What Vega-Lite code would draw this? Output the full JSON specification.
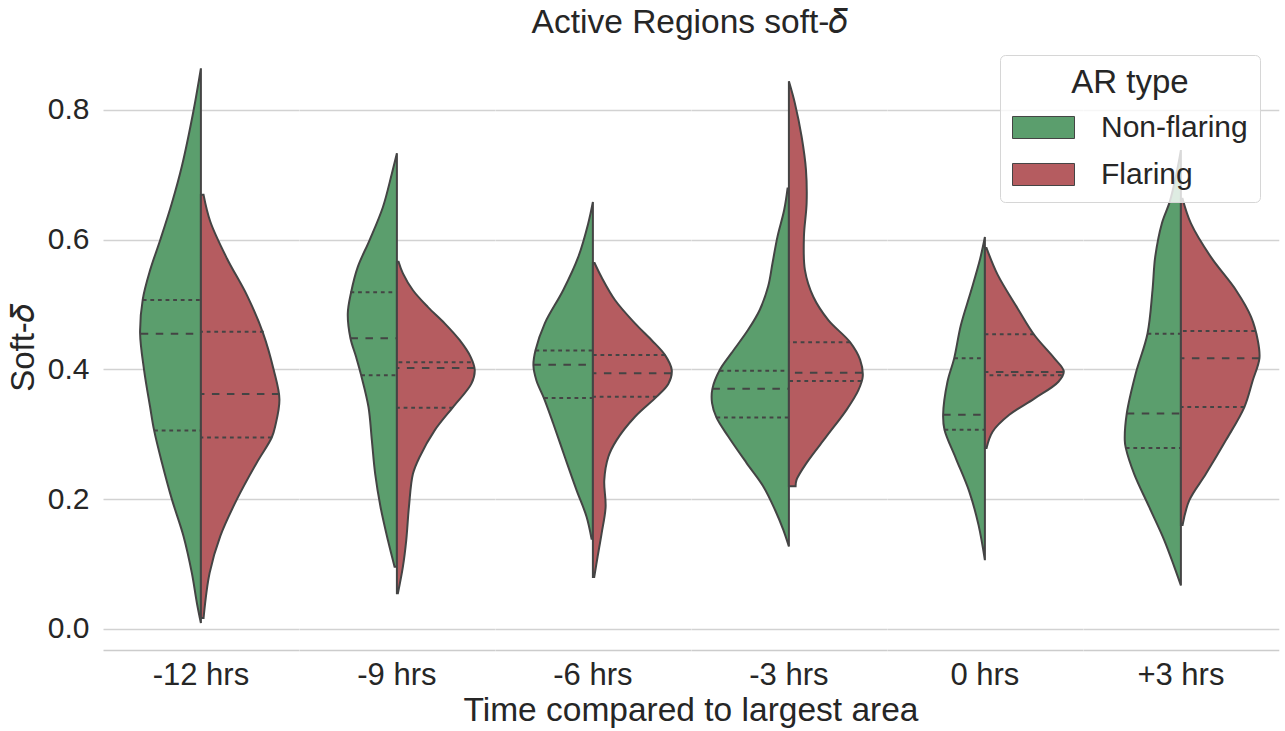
{
  "$schema": "https://vega.github.io/schema/vega-lite/v6.json",
  "padding": {"left": 7, "top": 5, "right": 5, "bottom": 5},
  "title": {"text": "Active Regions soft-𝛿", "fontSize": 33.5, "font": "Liberation Sans", "fontWeight": "normal", "color": "#262626", "anchor": "middle", "frame": "bounds", "dx": 47, "offset": 5},
  "data": {"values": [
    {"t":"-12 hrs","g":"Non-flaring","kind":"outline","v":0.864,"w":0},
    {"t":"-12 hrs","g":"Non-flaring","kind":"outline","v":0.799,"w":-22},
    {"t":"-12 hrs","g":"Non-flaring","kind":"outline","v":0.713,"w":-57},
    {"t":"-12 hrs","g":"Non-flaring","kind":"outline","v":0.656,"w":-87},
    {"t":"-12 hrs","g":"Non-flaring","kind":"outline","v":0.599,"w":-122},
    {"t":"-12 hrs","g":"Non-flaring","kind":"outline","v":0.553,"w":-152},
    {"t":"-12 hrs","g":"Non-flaring","kind":"outline","v":0.508,"w":-174},
    {"t":"-12 hrs","g":"Non-flaring","kind":"outline","v":0.456,"w":-182},
    {"t":"-12 hrs","g":"Non-flaring","kind":"outline","v":0.399,"w":-170},
    {"t":"-12 hrs","g":"Non-flaring","kind":"outline","v":0.342,"w":-152},
    {"t":"-12 hrs","g":"Non-flaring","kind":"outline","v":0.306,"w":-140},
    {"t":"-12 hrs","g":"Non-flaring","kind":"outline","v":0.257,"w":-117},
    {"t":"-12 hrs","g":"Non-flaring","kind":"outline","v":0.2,"w":-87},
    {"t":"-12 hrs","g":"Non-flaring","kind":"outline","v":0.143,"w":-52},
    {"t":"-12 hrs","g":"Non-flaring","kind":"outline","v":0.086,"w":-27},
    {"t":"-12 hrs","g":"Non-flaring","kind":"outline","v":0.04,"w":-12},
    {"t":"-12 hrs","g":"Non-flaring","kind":"outline","v":0.009,"w":0},
    {"t":"-12 hrs","g":"Flaring","kind":"outline","v":0.669,"w":8},
    {"t":"-12 hrs","g":"Flaring","kind":"outline","v":0.628,"w":28},
    {"t":"-12 hrs","g":"Flaring","kind":"outline","v":0.571,"w":78},
    {"t":"-12 hrs","g":"Flaring","kind":"outline","v":0.514,"w":138},
    {"t":"-12 hrs","g":"Flaring","kind":"outline","v":0.456,"w":186},
    {"t":"-12 hrs","g":"Flaring","kind":"outline","v":0.399,"w":218},
    {"t":"-12 hrs","g":"Flaring","kind":"outline","v":0.354,"w":235},
    {"t":"-12 hrs","g":"Flaring","kind":"outline","v":0.314,"w":223},
    {"t":"-12 hrs","g":"Flaring","kind":"outline","v":0.295,"w":212},
    {"t":"-12 hrs","g":"Flaring","kind":"outline","v":0.257,"w":168},
    {"t":"-12 hrs","g":"Flaring","kind":"outline","v":0.2,"w":108},
    {"t":"-12 hrs","g":"Flaring","kind":"outline","v":0.143,"w":58},
    {"t":"-12 hrs","g":"Flaring","kind":"outline","v":0.086,"w":26},
    {"t":"-12 hrs","g":"Flaring","kind":"outline","v":0.017,"w":8},

    {"t":"-9 hrs","g":"Non-flaring","kind":"outline","v":0.733,"w":0},
    {"t":"-9 hrs","g":"Non-flaring","kind":"outline","v":0.702,"w":-15},
    {"t":"-9 hrs","g":"Non-flaring","kind":"outline","v":0.650,"w":-42},
    {"t":"-9 hrs","g":"Non-flaring","kind":"outline","v":0.599,"w":-82},
    {"t":"-9 hrs","g":"Non-flaring","kind":"outline","v":0.558,"w":-117},
    {"t":"-9 hrs","g":"Non-flaring","kind":"outline","v":0.519,"w":-137},
    {"t":"-9 hrs","g":"Non-flaring","kind":"outline","v":0.486,"w":-147},
    {"t":"-9 hrs","g":"Non-flaring","kind":"outline","v":0.448,"w":-139},
    {"t":"-9 hrs","g":"Non-flaring","kind":"outline","v":0.419,"w":-122},
    {"t":"-9 hrs","g":"Non-flaring","kind":"outline","v":0.391,"w":-107},
    {"t":"-9 hrs","g":"Non-flaring","kind":"outline","v":0.342,"w":-85},
    {"t":"-9 hrs","g":"Non-flaring","kind":"outline","v":0.291,"w":-75},
    {"t":"-9 hrs","g":"Non-flaring","kind":"outline","v":0.239,"w":-65},
    {"t":"-9 hrs","g":"Non-flaring","kind":"outline","v":0.188,"w":-49},
    {"t":"-9 hrs","g":"Non-flaring","kind":"outline","v":0.137,"w":-27},
    {"t":"-9 hrs","g":"Non-flaring","kind":"outline","v":0.096,"w":-7},
    {"t":"-9 hrs","g":"Flaring","kind":"outline","v":0.566,"w":5},
    {"t":"-9 hrs","g":"Flaring","kind":"outline","v":0.548,"w":18},
    {"t":"-9 hrs","g":"Flaring","kind":"outline","v":0.522,"w":48},
    {"t":"-9 hrs","g":"Flaring","kind":"outline","v":0.496,"w":93},
    {"t":"-9 hrs","g":"Flaring","kind":"outline","v":0.471,"w":143},
    {"t":"-9 hrs","g":"Flaring","kind":"outline","v":0.445,"w":188},
    {"t":"-9 hrs","g":"Flaring","kind":"outline","v":0.419,"w":221},
    {"t":"-9 hrs","g":"Flaring","kind":"outline","v":0.399,"w":233},
    {"t":"-9 hrs","g":"Flaring","kind":"outline","v":0.378,"w":223},
    {"t":"-9 hrs","g":"Flaring","kind":"outline","v":0.342,"w":168},
    {"t":"-9 hrs","g":"Flaring","kind":"outline","v":0.306,"w":113},
    {"t":"-9 hrs","g":"Flaring","kind":"outline","v":0.265,"w":68},
    {"t":"-9 hrs","g":"Flaring","kind":"outline","v":0.239,"w":48},
    {"t":"-9 hrs","g":"Flaring","kind":"outline","v":0.188,"w":36},
    {"t":"-9 hrs","g":"Flaring","kind":"outline","v":0.137,"w":28},
    {"t":"-9 hrs","g":"Flaring","kind":"outline","v":0.096,"w":18},
    {"t":"-9 hrs","g":"Flaring","kind":"outline","v":0.055,"w":3},

    {"t":"-6 hrs","g":"Non-flaring","kind":"outline","v":0.658,"w":0},
    {"t":"-6 hrs","g":"Non-flaring","kind":"outline","v":0.625,"w":-14},
    {"t":"-6 hrs","g":"Non-flaring","kind":"outline","v":0.573,"w":-44},
    {"t":"-6 hrs","g":"Non-flaring","kind":"outline","v":0.522,"w":-89},
    {"t":"-6 hrs","g":"Non-flaring","kind":"outline","v":0.471,"w":-144},
    {"t":"-6 hrs","g":"Non-flaring","kind":"outline","v":0.429,"w":-172},
    {"t":"-6 hrs","g":"Non-flaring","kind":"outline","v":0.406,"w":-178},
    {"t":"-6 hrs","g":"Non-flaring","kind":"outline","v":0.383,"w":-169},
    {"t":"-6 hrs","g":"Non-flaring","kind":"outline","v":0.355,"w":-146},
    {"t":"-6 hrs","g":"Non-flaring","kind":"outline","v":0.317,"w":-119},
    {"t":"-6 hrs","g":"Non-flaring","kind":"outline","v":0.265,"w":-84},
    {"t":"-6 hrs","g":"Non-flaring","kind":"outline","v":0.214,"w":-49},
    {"t":"-6 hrs","g":"Non-flaring","kind":"outline","v":0.173,"w":-19},
    {"t":"-6 hrs","g":"Non-flaring","kind":"outline","v":0.139,"w":-4},
    {"t":"-6 hrs","g":"Flaring","kind":"outline","v":0.564,"w":5},
    {"t":"-6 hrs","g":"Flaring","kind":"outline","v":0.542,"w":26},
    {"t":"-6 hrs","g":"Flaring","kind":"outline","v":0.507,"w":66},
    {"t":"-6 hrs","g":"Flaring","kind":"outline","v":0.471,"w":126},
    {"t":"-6 hrs","g":"Flaring","kind":"outline","v":0.445,"w":176},
    {"t":"-6 hrs","g":"Flaring","kind":"outline","v":0.422,"w":216},
    {"t":"-6 hrs","g":"Flaring","kind":"outline","v":0.399,"w":236},
    {"t":"-6 hrs","g":"Flaring","kind":"outline","v":0.378,"w":226},
    {"t":"-6 hrs","g":"Flaring","kind":"outline","v":0.358,"w":191},
    {"t":"-6 hrs","g":"Flaring","kind":"outline","v":0.327,"w":126},
    {"t":"-6 hrs","g":"Flaring","kind":"outline","v":0.291,"w":71},
    {"t":"-6 hrs","g":"Flaring","kind":"outline","v":0.265,"w":46},
    {"t":"-6 hrs","g":"Flaring","kind":"outline","v":0.229,"w":34},
    {"t":"-6 hrs","g":"Flaring","kind":"outline","v":0.188,"w":38},
    {"t":"-6 hrs","g":"Flaring","kind":"outline","v":0.147,"w":26},
    {"t":"-6 hrs","g":"Flaring","kind":"outline","v":0.111,"w":14},
    {"t":"-6 hrs","g":"Flaring","kind":"outline","v":0.080,"w":4},

    {"t":"-3 hrs","g":"Non-flaring","kind":"outline","v":0.679,"w":-4},
    {"t":"-3 hrs","g":"Non-flaring","kind":"outline","v":0.646,"w":-14},
    {"t":"-3 hrs","g":"Non-flaring","kind":"outline","v":0.605,"w":-34},
    {"t":"-3 hrs","g":"Non-flaring","kind":"outline","v":0.564,"w":-49},
    {"t":"-3 hrs","g":"Non-flaring","kind":"outline","v":0.528,"w":-62},
    {"t":"-3 hrs","g":"Non-flaring","kind":"outline","v":0.492,"w":-87},
    {"t":"-3 hrs","g":"Non-flaring","kind":"outline","v":0.461,"w":-122},
    {"t":"-3 hrs","g":"Non-flaring","kind":"outline","v":0.425,"w":-172},
    {"t":"-3 hrs","g":"Non-flaring","kind":"outline","v":0.399,"w":-207},
    {"t":"-3 hrs","g":"Non-flaring","kind":"outline","v":0.370,"w":-229},
    {"t":"-3 hrs","g":"Non-flaring","kind":"outline","v":0.348,"w":-230},
    {"t":"-3 hrs","g":"Non-flaring","kind":"outline","v":0.326,"w":-217},
    {"t":"-3 hrs","g":"Non-flaring","kind":"outline","v":0.297,"w":-182},
    {"t":"-3 hrs","g":"Non-flaring","kind":"outline","v":0.256,"w":-127},
    {"t":"-3 hrs","g":"Non-flaring","kind":"outline","v":0.220,"w":-77},
    {"t":"-3 hrs","g":"Non-flaring","kind":"outline","v":0.184,"w":-42},
    {"t":"-3 hrs","g":"Non-flaring","kind":"outline","v":0.153,"w":-17},
    {"t":"-3 hrs","g":"Non-flaring","kind":"outline","v":0.127,"w":0},
    {"t":"-3 hrs","g":"Flaring","kind":"outline","v":0.844,"w":0},
    {"t":"-3 hrs","g":"Flaring","kind":"outline","v":0.810,"w":18},
    {"t":"-3 hrs","g":"Flaring","kind":"outline","v":0.759,"w":38},
    {"t":"-3 hrs","g":"Flaring","kind":"outline","v":0.708,"w":51},
    {"t":"-3 hrs","g":"Flaring","kind":"outline","v":0.656,"w":53},
    {"t":"-3 hrs","g":"Flaring","kind":"outline","v":0.605,"w":45},
    {"t":"-3 hrs","g":"Flaring","kind":"outline","v":0.553,"w":48},
    {"t":"-3 hrs","g":"Flaring","kind":"outline","v":0.512,"w":73},
    {"t":"-3 hrs","g":"Flaring","kind":"outline","v":0.476,"w":118},
    {"t":"-3 hrs","g":"Flaring","kind":"outline","v":0.442,"w":183},
    {"t":"-3 hrs","g":"Flaring","kind":"outline","v":0.415,"w":213},
    {"t":"-3 hrs","g":"Flaring","kind":"outline","v":0.389,"w":221},
    {"t":"-3 hrs","g":"Flaring","kind":"outline","v":0.368,"w":208},
    {"t":"-3 hrs","g":"Flaring","kind":"outline","v":0.338,"w":173},
    {"t":"-3 hrs","g":"Flaring","kind":"outline","v":0.297,"w":113},
    {"t":"-3 hrs","g":"Flaring","kind":"outline","v":0.256,"w":53},
    {"t":"-3 hrs","g":"Flaring","kind":"outline","v":0.230,"w":23},
    {"t":"-3 hrs","g":"Flaring","kind":"outline","v":0.220,"w":20},

    {"t":"0 hrs","g":"Non-flaring","kind":"outline","v":0.604,"w":0},
    {"t":"0 hrs","g":"Non-flaring","kind":"outline","v":0.571,"w":-14},
    {"t":"0 hrs","g":"Non-flaring","kind":"outline","v":0.520,"w":-42},
    {"t":"0 hrs","g":"Non-flaring","kind":"outline","v":0.468,"w":-72},
    {"t":"0 hrs","g":"Non-flaring","kind":"outline","v":0.417,"w":-92},
    {"t":"0 hrs","g":"Non-flaring","kind":"outline","v":0.381,"w":-112},
    {"t":"0 hrs","g":"Non-flaring","kind":"outline","v":0.330,"w":-125},
    {"t":"0 hrs","g":"Non-flaring","kind":"outline","v":0.307,"w":-121},
    {"t":"0 hrs","g":"Non-flaring","kind":"outline","v":0.263,"w":-87},
    {"t":"0 hrs","g":"Non-flaring","kind":"outline","v":0.212,"w":-47},
    {"t":"0 hrs","g":"Non-flaring","kind":"outline","v":0.160,"w":-19},
    {"t":"0 hrs","g":"Non-flaring","kind":"outline","v":0.106,"w":0},
    {"t":"0 hrs","g":"Flaring","kind":"outline","v":0.587,"w":5},
    {"t":"0 hrs","g":"Flaring","kind":"outline","v":0.546,"w":38},
    {"t":"0 hrs","g":"Flaring","kind":"outline","v":0.494,"w":98},
    {"t":"0 hrs","g":"Flaring","kind":"outline","v":0.453,"w":148},
    {"t":"0 hrs","g":"Flaring","kind":"outline","v":0.417,"w":208},
    {"t":"0 hrs","g":"Flaring","kind":"outline","v":0.397,"w":236},
    {"t":"0 hrs","g":"Flaring","kind":"outline","v":0.381,"w":220},
    {"t":"0 hrs","g":"Flaring","kind":"outline","v":0.355,"w":148},
    {"t":"0 hrs","g":"Flaring","kind":"outline","v":0.330,"w":73},
    {"t":"0 hrs","g":"Flaring","kind":"outline","v":0.304,"w":23},
    {"t":"0 hrs","g":"Flaring","kind":"outline","v":0.279,"w":5},

    {"t":"+3 hrs","g":"Non-flaring","kind":"outline","v":0.738,"w":0},
    {"t":"+3 hrs","g":"Non-flaring","kind":"outline","v":0.700,"w":-14},
    {"t":"+3 hrs","g":"Non-flaring","kind":"outline","v":0.659,"w":-33},
    {"t":"+3 hrs","g":"Non-flaring","kind":"outline","v":0.625,"w":-57},
    {"t":"+3 hrs","g":"Non-flaring","kind":"outline","v":0.573,"w":-77},
    {"t":"+3 hrs","g":"Non-flaring","kind":"outline","v":0.522,"w":-85},
    {"t":"+3 hrs","g":"Non-flaring","kind":"outline","v":0.455,"w":-100},
    {"t":"+3 hrs","g":"Non-flaring","kind":"outline","v":0.394,"w":-135},
    {"t":"+3 hrs","g":"Non-flaring","kind":"outline","v":0.332,"w":-162},
    {"t":"+3 hrs","g":"Non-flaring","kind":"outline","v":0.291,"w":-168},
    {"t":"+3 hrs","g":"Non-flaring","kind":"outline","v":0.279,"w":-165},
    {"t":"+3 hrs","g":"Non-flaring","kind":"outline","v":0.239,"w":-140},
    {"t":"+3 hrs","g":"Non-flaring","kind":"outline","v":0.188,"w":-95},
    {"t":"+3 hrs","g":"Non-flaring","kind":"outline","v":0.137,"w":-50},
    {"t":"+3 hrs","g":"Non-flaring","kind":"outline","v":0.096,"w":-20},
    {"t":"+3 hrs","g":"Non-flaring","kind":"outline","v":0.067,"w":0},
    {"t":"+3 hrs","g":"Flaring","kind":"outline","v":0.663,"w":5},
    {"t":"+3 hrs","g":"Flaring","kind":"outline","v":0.625,"w":30},
    {"t":"+3 hrs","g":"Flaring","kind":"outline","v":0.573,"w":90},
    {"t":"+3 hrs","g":"Flaring","kind":"outline","v":0.522,"w":165},
    {"t":"+3 hrs","g":"Flaring","kind":"outline","v":0.481,"w":210},
    {"t":"+3 hrs","g":"Flaring","kind":"outline","v":0.445,"w":230},
    {"t":"+3 hrs","g":"Flaring","kind":"outline","v":0.417,"w":235},
    {"t":"+3 hrs","g":"Flaring","kind":"outline","v":0.383,"w":215},
    {"t":"+3 hrs","g":"Flaring","kind":"outline","v":0.342,"w":190},
    {"t":"+3 hrs","g":"Flaring","kind":"outline","v":0.291,"w":135},
    {"t":"+3 hrs","g":"Flaring","kind":"outline","v":0.239,"w":75},
    {"t":"+3 hrs","g":"Flaring","kind":"outline","v":0.198,"w":25},
    {"t":"+3 hrs","g":"Flaring","kind":"outline","v":0.160,"w":5},

    {"t":"-12 hrs","g":"Non-flaring","kind":"quartile","v":0.507,"w":-174},
    {"t":"-12 hrs","g":"Non-flaring","kind":"median","v":0.455,"w":-180},
    {"t":"-12 hrs","g":"Non-flaring","kind":"quartile","v":0.306,"w":-140},
    {"t":"-12 hrs","g":"Flaring","kind":"quartile","v":0.458,"w":188},
    {"t":"-12 hrs","g":"Flaring","kind":"median","v":0.362,"w":235},
    {"t":"-12 hrs","g":"Flaring","kind":"quartile","v":0.295,"w":212},
    {"t":"-9 hrs","g":"Non-flaring","kind":"quartile","v":0.519,"w":-139},
    {"t":"-9 hrs","g":"Non-flaring","kind":"median","v":0.448,"w":-139},
    {"t":"-9 hrs","g":"Non-flaring","kind":"quartile","v":0.391,"w":-107},
    {"t":"-9 hrs","g":"Flaring","kind":"quartile","v":0.411,"w":221},
    {"t":"-9 hrs","g":"Flaring","kind":"median","v":0.402,"w":232},
    {"t":"-9 hrs","g":"Flaring","kind":"quartile","v":0.341,"w":168},
    {"t":"-6 hrs","g":"Non-flaring","kind":"quartile","v":0.429,"w":-172},
    {"t":"-6 hrs","g":"Non-flaring","kind":"median","v":0.407,"w":-178},
    {"t":"-6 hrs","g":"Non-flaring","kind":"quartile","v":0.356,"w":-146},
    {"t":"-6 hrs","g":"Flaring","kind":"quartile","v":0.422,"w":216},
    {"t":"-6 hrs","g":"Flaring","kind":"median","v":0.394,"w":235},
    {"t":"-6 hrs","g":"Flaring","kind":"quartile","v":0.358,"w":191},
    {"t":"-3 hrs","g":"Non-flaring","kind":"quartile","v":0.398,"w":-207},
    {"t":"-3 hrs","g":"Non-flaring","kind":"median","v":0.370,"w":-229},
    {"t":"-3 hrs","g":"Non-flaring","kind":"quartile","v":0.326,"w":-217},
    {"t":"-3 hrs","g":"Flaring","kind":"quartile","v":0.442,"w":183},
    {"t":"-3 hrs","g":"Flaring","kind":"median","v":0.395,"w":220},
    {"t":"-3 hrs","g":"Flaring","kind":"quartile","v":0.382,"w":217},
    {"t":"0 hrs","g":"Non-flaring","kind":"quartile","v":0.417,"w":-92},
    {"t":"0 hrs","g":"Non-flaring","kind":"median","v":0.330,"w":-125},
    {"t":"0 hrs","g":"Non-flaring","kind":"quartile","v":0.307,"w":-121},
    {"t":"0 hrs","g":"Flaring","kind":"quartile","v":0.454,"w":147},
    {"t":"0 hrs","g":"Flaring","kind":"median","v":0.396,"w":235},
    {"t":"0 hrs","g":"Flaring","kind":"quartile","v":0.391,"w":230},
    {"t":"+3 hrs","g":"Non-flaring","kind":"quartile","v":0.455,"w":-100},
    {"t":"+3 hrs","g":"Non-flaring","kind":"median","v":0.332,"w":-162},
    {"t":"+3 hrs","g":"Non-flaring","kind":"quartile","v":0.279,"w":-165},
    {"t":"+3 hrs","g":"Flaring","kind":"quartile","v":0.459,"w":222},
    {"t":"+3 hrs","g":"Flaring","kind":"median","v":0.417,"w":235},
    {"t":"+3 hrs","g":"Flaring","kind":"quartile","v":0.342,"w":190}
  ]},
  "facet": {
    "column": {
      "field": "t", "type": "nominal",
      "sort": ["-12 hrs", "-9 hrs", "-6 hrs", "-3 hrs", "0 hrs", "+3 hrs"],
      "title": "Time compared to largest area",
      "header": {
        "labelOrient": "bottom", "labelFontSize": 31, "labelFont": "Liberation Sans", "labelColor": "#262626", "labelPadding": 11,
        "titleOrient": "bottom", "titleFontSize": 33.5, "titleFont": "Liberation Sans", "titleFontWeight": "normal", "titleColor": "#262626", "titlePadding": -6
      }
    }
  },
  "spacing": 0,
  "spec": {
    "width": 195.8,
    "height": 605,
    "layer": [
      {
        "transform": [{"filter": "datum.kind === 'outline'"}],
        "mark": {"type": "area", "orient": "horizontal", "interpolate": "catmull-rom", "stroke": "#444444", "strokeWidth": 2, "fillOpacity": 1, "opacity": 1},
        "encoding": {
          "y": {"field": "v", "type": "quantitative",
                "scale": {"domain": [-0.0325, 0.9], "nice": false, "zero": false},
                "axis": {"title": "Soft-𝛿", "values": [0, 0.2, 0.4, 0.6, 0.8], "format": ".1f", "domain": false, "ticks": false,
                         "labelPadding": 14, "labelFontSize": 30, "labelFont": "Liberation Sans", "labelColor": "#262626",
                         "titleFontSize": 33, "titleFont": "Liberation Sans", "titleFontWeight": "normal", "titleColor": "#262626", "titlePadding": 7,
                         "grid": true, "gridColor": "#d2d2d2", "gridWidth": 1.3}},
          "x": {"field": "w", "type": "quantitative", "stack": null,
                "scale": {"domain": [-293, 293], "nice": false, "zero": false},
                "axis": {"title": null, "labels": false, "ticks": false, "grid": false, "domain": true, "domainColor": "#cccccc", "domainWidth": 1.6}},
          "x2": {"datum": 0},
          "color": {"field": "g", "type": "nominal",
                    "scale": {"domain": ["Non-flaring", "Flaring"], "range": ["#5b9e6d", "#b55c60"]},
                    "legend": {"title": "AR type", "orient": "none", "legendX": 897, "legendY": 10,
                               "symbolType": "M-1,-0.355H1V0.355H-1Z", "symbolSize": 3844, "symbolStrokeColor": "#444444", "symbolStrokeWidth": 1,
                               "symbolOpacity": 1, "labelFontSize": 30, "labelFont": "Liberation Sans", "labelColor": "#262626", "labelOffset": 26,
                               "titleFontSize": 33, "titleFont": "Liberation Sans", "titleFontWeight": "normal", "titleColor": "#262626", "titleAnchor": "middle", "titlePadding": -4,
                               "fillColor": "rgba(255,255,255,0.8)", "strokeColor": "#d6d6d6", "cornerRadius": 5, "padding": 12, "rowPadding": -5}}
        }
      },
      {
        "transform": [{"filter": "datum.kind !== 'outline'"}],
        "mark": {"type": "rule", "stroke": "#444444", "strokeWidth": 2},
        "encoding": {
          "y": {"field": "v", "type": "quantitative"},
          "x": {"field": "w", "type": "quantitative"},
          "x2": {"datum": 0},
          "strokeDash": {"field": "kind", "type": "nominal", "scale": {"domain": ["median", "quartile"], "range": [[7.5, 7.5], [3.8, 3.8]]}, "legend": null}
        }
      }
    ]
  },
  "config": {
    "view": {"stroke": null},
    "font": "Liberation Sans"
  }
}
